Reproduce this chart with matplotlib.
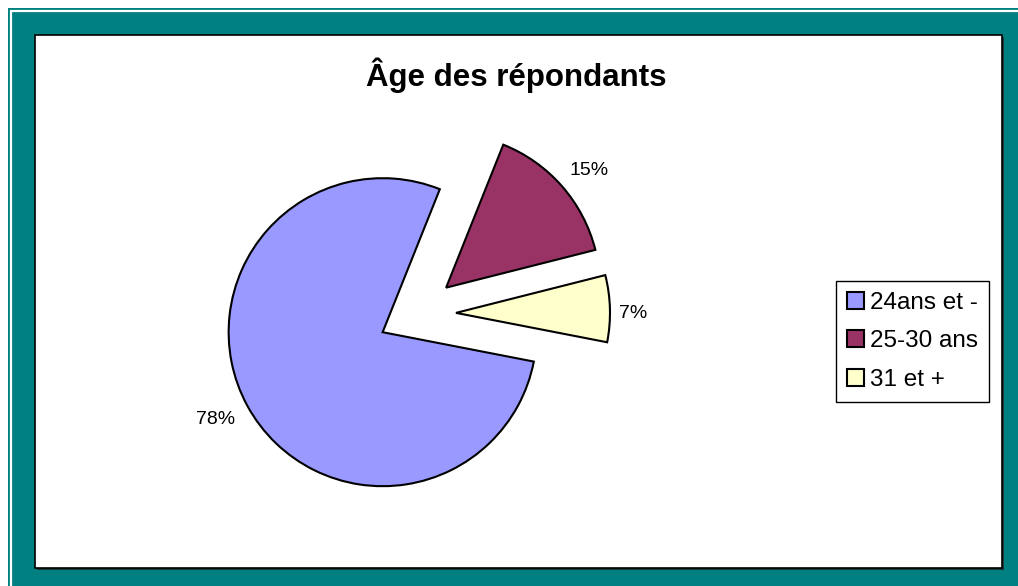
import matplotlib.pyplot as plt
from matplotlib.patches import Rectangle

plt.rcParams['font.family'] = ['Liberation Sans', 'DejaVu Sans']

# data
categories = ["24ans et -", "25-30 ans", "31 et +"]
values = [78, 15, 7]
colors = ["#9999FF", "#993366", "#FFFFCC"]
title = "Âge des répondants"

W, H = 1018, 586
fig = plt.figure(figsize=(W / 100, H / 100), dpi=100)
fig.patch.set_facecolor("white")

# one axes spanning the figure, in pixel units (y up)
ax = fig.add_axes([0, 0, 1, 1])

# frame: teal border, thin white inset line, white chart panel
ax.add_patch(Rectangle((8, 0), W - 8, H - 8, facecolor="#008080", edgecolor="none", zorder=0))
ax.add_patch(Rectangle((11, -20), W + 20, H - 11 + 20, facecolor="none",
                       edgecolor="white", linewidth=1.6, zorder=0.5))
ax.add_patch(Rectangle((37, H - 570), 1002 - 35, 570 - 37, facecolor="#1a3a3a",
                       edgecolor="none", zorder=0.6))
ax.add_patch(Rectangle((35, H - 568), 1002 - 35, 568 - 35, facecolor="white",
                       edgecolor="black", linewidth=1.2, zorder=0.8))

wedges, texts, autotexts = ax.pie(
    values, colors=colors, explode=[38, 40, 40],
    startangle=-11, counterclock=False,
    center=(416, H - 314), radius=154,
    autopct="%1.0f%%", pctdistance=1.18,
    wedgeprops=dict(edgecolor="black", linewidth=1.5),
    textprops=dict(fontsize=14, color="black"),
)
for w in wedges:
    w.set_zorder(2)
# small nudges so the labels sit where Excel put them
nudges = [(-8, 0), (6, -3), (-5, -6)]
for t, (dx, dy) in zip(autotexts, nudges):
    x, y = t.get_position()
    t.set_position((x + dx, y + dy))
    t.set_zorder(3)

ax.set_xlim(0, W)
ax.set_ylim(0, H)
ax.set_aspect("auto")
ax.axis("off")

ax.text(516, H - 75, title, ha="center", va="center", fontsize=22.5,
        fontweight="bold", zorder=3)

leg = ax.legend(wedges, categories, loc="upper left",
                bbox_to_anchor=(836 / W, 1 - 281 / H), bbox_transform=fig.transFigure,
                frameon=True, fancybox=False, edgecolor="black", framealpha=1,
                fontsize=17.5, handlelength=0.7, handleheight=0.7, handletextpad=0.25,
                labelspacing=0.68, borderpad=0.45, borderaxespad=0)
leg.get_frame().set_linewidth(1.0)
leg.set_zorder(4)

fig.savefig("out.png", dpi=100, facecolor=fig.get_facecolor())
